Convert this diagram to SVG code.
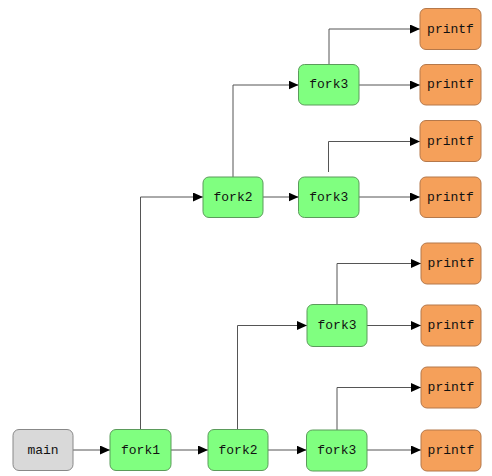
<svg xmlns="http://www.w3.org/2000/svg" width="492" height="476" viewBox="0 0 492 476">
<style>
.fork rect{fill:#80FF80;stroke:#5B9B5B;stroke-width:1}
.pf rect{fill:#F5A05A;stroke:#B5784A;stroke-width:1}
.gray rect{fill:#D9D9D9;stroke:#888;stroke-width:1}
text{font-family:"Liberation Mono","DejaVu Sans Mono",monospace;font-size:13px;fill:#111;text-anchor:middle;dominant-baseline:central}
#connectors path{fill:none;stroke:#555;stroke-width:1;marker-end:url(#arr)}
</style>
<defs>
<marker id="arr" markerUnits="userSpaceOnUse" markerWidth="10" markerHeight="9" refX="10" refY="4.5" orient="auto">
<path d="M0,0 L10,4.5 L0,9 z" fill="#000"/>
</marker>
</defs>
<rect width="492" height="476" fill="#fff"/>
<g id="connectors">
<path d="M73,450 H110"/>
<path d="M171,450 H208"/>
<path d="M140.5,429 V197 H203"/>
<path d="M268,450 H306.5"/>
<path d="M237.5,429 V325.5 H307"/>
<path d="M367,450 H421"/>
<path d="M337,430 V387.5 H421"/>
<path d="M367,325.5 H421"/>
<path d="M337,304.5 V263.5 H421"/>
<path d="M263,197 H298.5"/>
<path d="M233,177 V85 H298.5"/>
<path d="M359,197 H420"/>
<path d="M328.5,172 V141.5 H420"/>
<path d="M359,85 H420"/>
<path d="M329,64.5 V29 H420"/>
</g>
<g id="main" class="gray"><rect x="13" y="429.5" width="60" height="41" rx="6"/><text x="43" y="450">main</text></g>
<g id="fork1" class="fork"><rect x="110" y="429.5" width="61" height="41" rx="6"/><text x="140.5" y="450">fork1</text></g>
<g id="fork2_b" class="fork"><rect x="208" y="429.5" width="60" height="41" rx="6"/><text x="238" y="450">fork2</text></g>
<g id="fork3_b" class="fork"><rect x="306.5" y="430" width="60.5" height="41" rx="6"/><text x="336.75" y="450.5">fork3</text></g>
<g id="printf_b2" class="pf"><rect x="421" y="430" width="60" height="41" rx="6"/><text x="451" y="450.5">printf</text></g>
<g id="printf_b1" class="pf"><rect x="421" y="367" width="60" height="41" rx="6"/><text x="451" y="387.5">printf</text></g>
<g id="fork3_m" class="fork"><rect x="307" y="304.5" width="60" height="42" rx="6"/><text x="337" y="325.5">fork3</text></g>
<g id="printf_m2" class="pf"><rect x="421" y="305" width="60" height="41" rx="6"/><text x="451" y="325.5">printf</text></g>
<g id="printf_m1" class="pf"><rect x="421" y="243" width="60" height="41" rx="6"/><text x="451" y="263.5">printf</text></g>
<g id="fork2_t" class="fork"><rect x="203" y="177" width="60" height="40.5" rx="6"/><text x="233" y="197">fork2</text></g>
<g id="fork3_t2" class="fork"><rect x="298.5" y="177" width="60.5" height="40.5" rx="6"/><text x="328.75" y="197">fork3</text></g>
<g id="printf_t4" class="pf"><rect x="420" y="177" width="61" height="40.5" rx="6"/><text x="450.5" y="197">printf</text></g>
<g id="printf_t3" class="pf"><rect x="420" y="120.5" width="61" height="41" rx="6"/><text x="450.5" y="141">printf</text></g>
<g id="fork3_t1" class="fork"><rect x="298.5" y="64.5" width="60.5" height="40.5" rx="6"/><text x="328.75" y="84.75">fork3</text></g>
<g id="printf_t2" class="pf"><rect x="420" y="64.5" width="61" height="40.5" rx="6"/><text x="450.5" y="84.75">printf</text></g>
<g id="printf_t1" class="pf"><rect x="420" y="8.5" width="61" height="41" rx="6"/><text x="450.5" y="29">printf</text></g>
</svg>
